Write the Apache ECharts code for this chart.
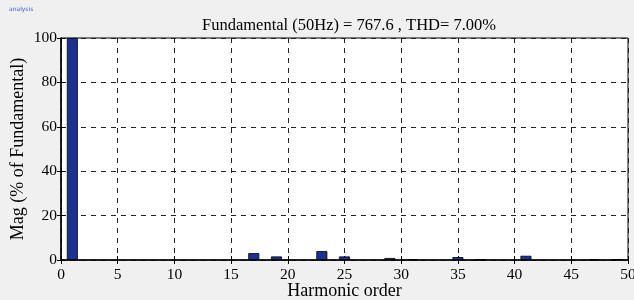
<!DOCTYPE html>
<html><head><meta charset="utf-8">
<script src="https://cdn.jsdelivr.net/npm/echarts@6/dist/echarts.min.js"></script>
<style>html,body{margin:0;padding:0;background:#f0f0f0}#c{width:634px;height:300px}</style>
</head><body><div id="c"></div>
<script>
var harmonicOrders = [1, 17, 19, 23, 25, 29, 31, 35, 37, 41, 47, 49];
var magnitudes     = [100, 3.1, 1.6, 4.0, 1.6, 0.9, 0.3, 1.3, 0.3, 1.9, 0.3, 0.3];
var xTicks = [0, 5, 10, 15, 20, 25, 30, 35, 40, 45, 50];
var yTicks = [0, 20, 40, 60, 80, 100];
var titleText = 'Fundamental (50Hz) = 767.6 , THD= 7.00%';

var data = harmonicOrders.map(function (h, i) { return [h, magnitudes[i]]; });
var font = 'Liberation Serif';
var chart = echarts.init(document.getElementById('c'));
chart.setOption({
  backgroundColor: '#f0f0f0',
  animation: false,
  title: [{
    text: titleText, left: 344, top: 12, textAlign: 'center',
    textStyle: { fontFamily: font, fontSize: 16.5, fontWeight: 'normal', color: '#000' }
  }, {
    text: 'analysis', left: 4, top: 1,
    textStyle: { fontFamily: 'DejaVu Sans', fontSize: 6, fontWeight: 'normal', color: '#3a5bd0' }
  }],
  grid: { left: 61, right: 6, top: 38, bottom: 40, outerBoundsMode: 'none', containLabel: false,
    show: true, backgroundColor: '#fff', borderColor: '#000', borderWidth: 1 },
  xAxis: [{
    type: 'value', min: 0, max: 50, interval: 5,
    name: 'Harmonic order', nameLocation: 'middle', nameGap: 22, nameMoveOverlap: false,
    nameTextStyle: { fontFamily: font, fontSize: 18, color: '#000' },
    axisLine: { lineStyle: { color: '#000', width: 1.5 } },
    axisTick: { inside: true, length: 4, lineStyle: { color: '#000' } },
    axisLabel: { fontFamily: font, fontSize: 15.5, color: '#000', margin: 7,
      formatter: function (v) { return xTicks.indexOf(v) >= 0 ? String(v) : ''; } },
    splitLine: { show: true, lineStyle: { color: '#222', type: [5, 5], width: 1 } }
  }, {
    type: 'value', position: 'top', min: 0, max: 50, interval: 5,
    axisLine: { show: false }, axisLabel: { show: false }, splitLine: { show: false },
    axisTick: { inside: true, length: 4, lineStyle: { color: '#000' } }
  }],
  yAxis: [{
    type: 'value', min: 0, max: 100, interval: 20,
    name: 'Mag (% of Fundamental)', nameLocation: 'middle', nameGap: 34, nameMoveOverlap: false,
    nameTextStyle: { fontFamily: font, fontSize: 18, color: '#000' },
    axisLine: { show: true, lineStyle: { color: '#000', width: 1.5 } },
    axisTick: { show: true, inside: true, length: 4, lineStyle: { color: '#000' } },
    axisLabel: { fontFamily: font, fontSize: 15.5, color: '#000', margin: 4,
      formatter: function (v) { return yTicks.indexOf(v) >= 0 ? String(v) : ''; } },
    splitLine: { show: true, lineStyle: { color: '#222', type: [5, 5], width: 1 } }
  }, {
    type: 'value', position: 'right', min: 0, max: 100, interval: 20,
    axisLine: { show: false }, axisLabel: { show: false }, splitLine: { show: false },
    axisTick: { show: true, inside: true, length: 4, lineStyle: { color: '#000' } }
  }],
  series: [{
    type: 'bar', data: data, barWidth: 11,
    itemStyle: { color: '#1c3191', borderColor: '#000', borderWidth: 0.8 }
  }]
});
</script></body></html>
